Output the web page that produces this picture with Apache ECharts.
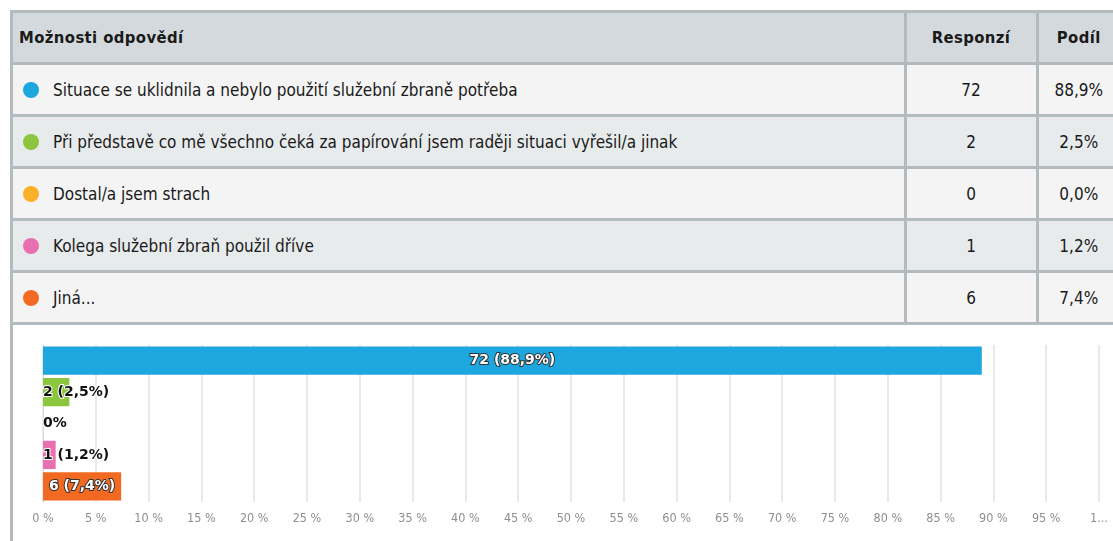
<!DOCTYPE html>
<html>
<head>
<meta charset="utf-8">
<script src="https://cdn.jsdelivr.net/npm/echarts@6/dist/echarts.min.js"></script>
<style>
  html, body { margin: 0; padding: 0; background: #fff; }
  body { width: 1113px; height: 541px; position: relative; overflow: hidden;
         font-family: "DejaVu Sans Condensed", "Liberation Sans Narrow", sans-serif; font-stretch: condensed; color: #1a1a1a; }
  .frame { position: absolute; left: 10px; top: 10px; width: 1120px; height: 560px;
           border-left: 3px solid #b3bbbf; border-top: 3px solid #b3bbbf; box-sizing: border-box; }
  table { position: absolute; left: 13px; top: 13px; border-collapse: collapse; width: 1106px; table-layout: fixed; }
  td, th { height: 49px; border-bottom: 3px solid #b3bbbf; padding: 0; font-size: 17px; }
  th { background: #d3d9dc; font-weight: bold; letter-spacing: 0.4px; font-size: 16.5px; }
  th.opt { text-align: left; padding-left: 6px; }
  td.opt { padding-left: 10px; }
  td.num, th.num { text-align: center; border-left: 3px solid #b3bbbf; }
  tr.odd td { background: #f4f4f4; }
  tr.even td { background: #e8ebec; }
  .dot { display: inline-block; width: 16px; height: 16px; border-radius: 50%; vertical-align: -2px; margin-right: 14px; }
  .chart { position: absolute; left: 0; top: 323px; width: 1113px; height: 218px; }
</style>
</head>
<body>
<div class="frame"></div>
<table id="tbl">
  <colgroup><col style="width:892px"><col style="width:132px"><col style="width:82px"></colgroup>
  <thead><tr><th class="opt">Možnosti odpovědí</th><th class="num">Responzí</th><th class="num">Podíl</th></tr></thead>
  <tbody id="rows"></tbody>
</table>
<div class="chart" id="chart"></div>
<script>
const options = [
  'Situace se uklidnila a nebylo použití služební zbraně potřeba',
  'Při představě co mě všechno čeká za papírování jsem raději situaci vyřešil/a jinak',
  'Dostal/a jsem strach',
  'Kolega služební zbraň použil dříve',
  'Jiná...'
];
const counts = [72, 2, 0, 1, 6];
const shares = [88.9, 2.5, 0.0, 1.2, 7.4];
const xTicks = [0, 5, 10, 15, 20, 25, 30, 35, 40, 45, 50, 55, 60, 65, 70, 75, 80, 85, 90, 95, 100];
const colors = ['#1ea6df', '#8cc63e', '#fbb02a', '#e870b1', '#f26922'];

function fmt(v) { return v.toFixed(1).replace('.', ','); }

// table rows
let html = '';
options.forEach(function (name, i) {
  html += '<tr class="' + (i % 2 ? 'even' : 'odd') + '">' +
    '<td class="opt"><span class="dot" style="background:' + colors[i] + '"></span>' + name + '</td>' +
    '<td class="num">' + counts[i] + '</td>' +
    '<td class="num">' + fmt(shares[i]) + '%</td></tr>';
});
document.getElementById('rows').innerHTML = html;

// bar chart
const chart = echarts.init(document.getElementById('chart'));
const barData = shares.map(function (v, i) {
  const inside = v > 7;   // label fits in the bar
  return {
    value: v,
    itemStyle: { color: colors[i] },
    label: {
      position: inside ? 'inside' : 'insideLeft',
      distance: 0,
      color: inside ? '#fff' : '#111',
      textBorderColor: inside ? '#333' : '#fff',
      textBorderWidth: 2
    }
  };
});
chart.setOption({
  animation: false,
  grid: { left: 43, right: 14, top: 22, height: 157 },
  xAxis: {
    type: 'value', min: xTicks[0], max: xTicks[xTicks.length - 1], interval: 5,
    axisLine: { show: false }, axisTick: { show: false },
    splitLine: { lineStyle: { color: '#e2e2e2', width: 1.5 } },
    axisLabel: {
      color: '#8f8f8f', fontSize: 12.5, margin: 10, fontFamily: 'DejaVu Sans Condensed',
      formatter: function (v) { return v === 100 ? '1...' : v + ' %'; }
    }
  },
  yAxis: {
    type: 'category', inverse: true, data: options,
    axisLabel: { show: false },
    axisLine: { lineStyle: { color: '#d3dde8' } },
    axisTick: { show: false }
  },
  series: [{
    type: 'bar', data: barData, barCategoryGap: '10%',
    label: {
      show: true, fontSize: 14, fontWeight: 'bold', fontFamily: 'DejaVu Sans',
      formatter: function (p) {
        const i = p.dataIndex;
        return counts[i] === 0 ? '0%' : counts[i] + ' (' + fmt(shares[i]) + '%)';
      }
    }
  }]
});
</script>
</body>
</html>
